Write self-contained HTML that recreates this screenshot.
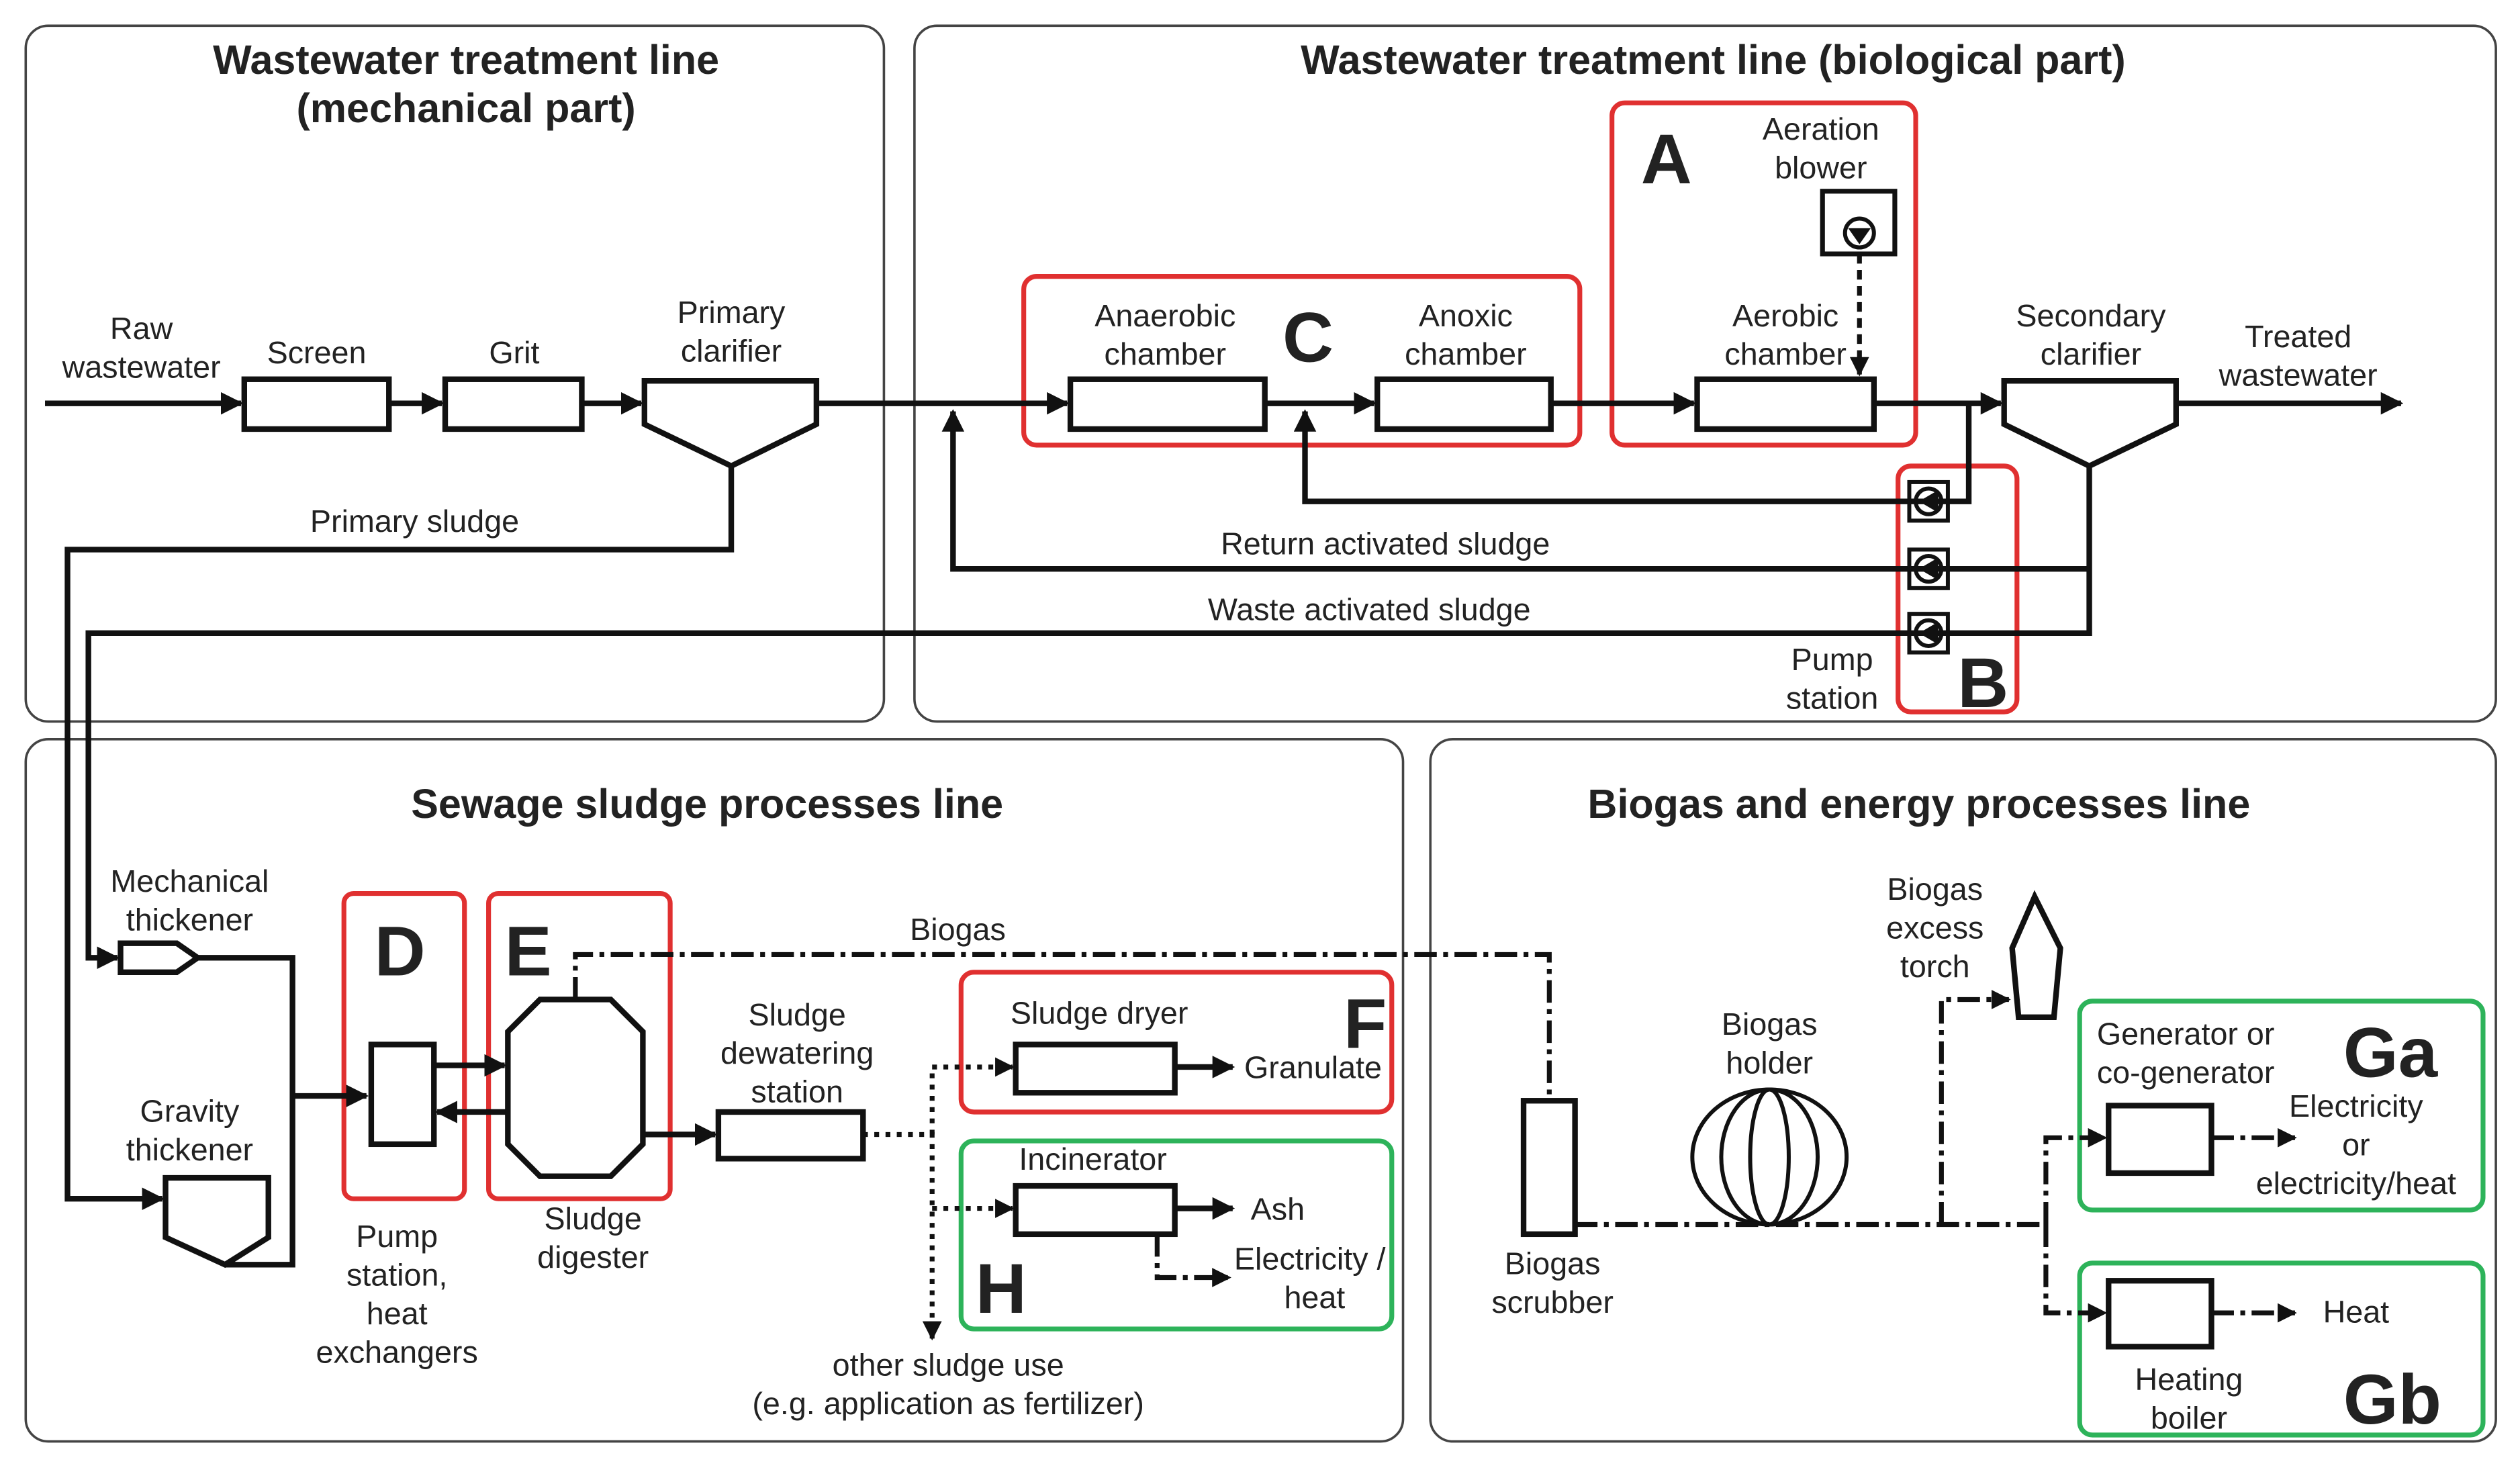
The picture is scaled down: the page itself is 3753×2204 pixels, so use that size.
<!DOCTYPE html>
<html><head><meta charset="utf-8"><style>
html,body{margin:0;padding:0;background:#fff;}
svg{display:block;}
text{font-family:"Liberation Sans",sans-serif;fill:#222;}
.t{font-size:19.5px;text-anchor:middle;}
.h{font-size:25.5px;font-weight:bold;text-anchor:middle;}
.L{font-size:44px;font-weight:bold;}
</style></head><body>
<svg width="3753" height="2204" viewBox="0 0 1568 921" preserveAspectRatio="none" xmlns="http://www.w3.org/2000/svg">
<defs>
<marker id="a" viewBox="0 0 10 10" refX="9" refY="5" markerWidth="4" markerHeight="4" orient="auto" markerUnits="strokeWidth"><path d="M0,0L10,5L0,10z" fill="#111"/></marker>
</defs>
<g fill="none" stroke="#444" stroke-width="1.5">
<rect x="16" y="16" width="534" height="433" rx="14"/>
<rect x="569" y="16" width="984" height="433" rx="14"/>
<rect x="16" y="460" width="857" height="437" rx="14"/>
<rect x="890" y="460" width="663" height="437" rx="14"/>
</g>
<g fill="none" stroke="#e03030" stroke-width="3">
<rect x="637" y="172" width="346" height="105" rx="8"/>
<rect x="1003" y="64" width="189" height="213" rx="8"/>
<rect x="1181" y="290" width="74" height="153" rx="8"/>
<rect x="214" y="556" width="75" height="190" rx="6"/>
<rect x="304" y="556" width="113" height="190" rx="6"/>
<rect x="598" y="605" width="268" height="87" rx="8"/>
</g>
<g fill="none" stroke="#2db35a" stroke-width="3">
<rect x="598" y="710" width="268" height="117" rx="8"/>
<rect x="1294" y="623" width="251" height="130" rx="8"/>
<rect x="1294" y="786" width="251" height="107" rx="8"/>
</g>
<g fill="none" stroke="#111" stroke-width="3.5">
<line x1="28" y1="251" x2="150" y2="251" marker-end="url(#a)"/>
<rect x="152" y="236" width="90" height="31"/>
<line x1="242" y1="251" x2="275" y2="251" marker-end="url(#a)"/>
<rect x="277" y="236" width="85" height="31"/>
<line x1="362" y1="251" x2="399" y2="251" marker-end="url(#a)"/>
<path d="M401,237H508V264L455,290L401,264Z"/>
<line x1="508" y1="251" x2="664" y2="251" marker-end="url(#a)"/>
<rect x="666" y="236" width="121" height="31"/>
<line x1="787" y1="251" x2="855" y2="251" marker-end="url(#a)"/>
<rect x="857" y="236" width="108" height="31"/>
<line x1="965" y1="251" x2="1054" y2="251" marker-end="url(#a)"/>
<rect x="1056" y="236" width="110" height="31"/>
<line x1="1166" y1="251" x2="1245" y2="251" marker-end="url(#a)"/>
<path d="M1247,237H1354V264L1300,290L1247,264Z"/>
<line x1="1354" y1="251" x2="1494" y2="251" marker-end="url(#a)"/>
<polyline points="455,290 455,342 42,342 42,746 101,746" marker-end="url(#a)"/>
<polyline points="1300,290 1300,394 55,394 55,596 73,596" marker-end="url(#a)"/>
<polyline points="1300,354 593,354 593,256" marker-end="url(#a)"/>
<polyline points="1225,251 1225,312 812,312 812,256" marker-end="url(#a)"/>
<rect x="1134" y="119" width="45" height="39" stroke-width="3"/>
<path d="M75,587H110L123,596L110,605H75Z"/>
<polyline points="123,596 182,596 182,787 140,787"/>
<path d="M103,733H167V770L140,787L103,770Z"/>
<line x1="182" y1="682" x2="228" y2="682" marker-end="url(#a)"/>
<rect x="231" y="650" width="39" height="62"/>
<line x1="270" y1="663" x2="314" y2="663" marker-end="url(#a)"/>
<line x1="316" y1="692" x2="272" y2="692" marker-end="url(#a)"/>
<path d="M336,622H380L400,642V712L380,732H336L316,712V642Z"/>
<line x1="400" y1="706" x2="445" y2="706" marker-end="url(#a)"/>
<rect x="447" y="692" width="90" height="29"/>
<rect x="632" y="650" width="99" height="30"/>
<line x1="731" y1="664" x2="767" y2="664" marker-end="url(#a)"/>
<rect x="632" y="738" width="99" height="30"/>
<line x1="731" y1="752" x2="767" y2="752" marker-end="url(#a)"/>
<rect x="948" y="685" width="32" height="83"/>
<path d="M1266,558L1282,590L1278,633H1256L1252,590Z"/>
<rect x="1312" y="688" width="64" height="42"/>
<rect x="1312" y="797" width="64" height="41"/>
</g>
<g fill="none" stroke="#111" stroke-width="2.5">
<ellipse cx="1101" cy="720" rx="48" ry="42"/>
<ellipse cx="1101" cy="720" rx="30" ry="42"/>
<ellipse cx="1101" cy="720" rx="12" ry="42"/>
<circle cx="1157" cy="145" r="9"/>
<circle cx="1200" cy="312" r="8"/><rect x="1188" y="300" width="24" height="24"/>
<circle cx="1200" cy="354" r="8"/><rect x="1188" y="342" width="24" height="24"/>
<circle cx="1200" cy="394" r="8"/><rect x="1188" y="382" width="24" height="24"/>
</g>
<g fill="#111">
<path d="M1150,142H1164L1157,152Z"/>
<path d="M1194,312L1206,305V319Z"/><path d="M1194,354L1206,347V361Z"/><path d="M1194,394L1206,387V401Z"/>
</g>
<g fill="none" stroke="#111" stroke-width="3" stroke-dasharray="6,4">
<line x1="1157" y1="158" x2="1157" y2="233" marker-end="url(#a)"/>
</g>
<g fill="none" stroke="#111" stroke-width="3" stroke-dasharray="3,4">
<polyline points="537,706 580,706 580,833" marker-end="url(#a)"/>
<polyline points="580,706 580,664 630,664" marker-end="url(#a)"/>
<line x1="580" y1="752" x2="630" y2="752" marker-end="url(#a)"/>
</g>
<g fill="none" stroke="#111" stroke-width="3" stroke-dasharray="14,4,3,4">
<polyline points="358,622 358,594 964,594 964,685"/>
<polyline points="720,768 720,795 765,795" marker-end="url(#a)"/>
<line x1="980" y1="762" x2="1273" y2="762"/>
<polyline points="1208,762 1208,622 1250,622" marker-end="url(#a)"/>
<polyline points="1273,762 1273,708 1310,708" marker-end="url(#a)"/>
<polyline points="1273,762 1273,817 1310,817" marker-end="url(#a)"/>
<line x1="1376" y1="708" x2="1428" y2="708" marker-end="url(#a)"/>
<line x1="1376" y1="817" x2="1428" y2="817" marker-end="url(#a)"/>
</g>
<text class="h" x="290" y="46">Wastewater treatment line</text>
<text class="h" x="290" y="76">(mechanical part)</text>
<text class="h" x="1066" y="46">Wastewater treatment line (biological part)</text>
<text class="h" x="440" y="509">Sewage sludge processes line</text>
<text class="h" x="1194" y="509">Biogas and energy processes line</text>
<g class="t">
<text class="t" x="88" y="211">Raw</text><text class="t" x="88" y="235">wastewater</text>
<text class="t" x="197" y="226">Screen</text>
<text class="t" x="320" y="226">Grit</text>
<text class="t" x="455" y="201">Primary</text><text class="t" x="455" y="225">clarifier</text>
<text class="t" x="725" y="203">Anaerobic</text><text class="t" x="725" y="227">chamber</text>
<text class="t" x="912" y="203">Anoxic</text><text class="t" x="912" y="227">chamber</text>
<text class="t" x="1111" y="203">Aerobic</text><text class="t" x="1111" y="227">chamber</text>
<text class="t" x="1133" y="87">Aeration</text><text class="t" x="1133" y="111">blower</text>
<text class="t" x="1301" y="203">Secondary</text><text class="t" x="1301" y="227">clarifier</text>
<text class="t" x="1430" y="216">Treated</text><text class="t" x="1430" y="240">wastewater</text>
<text class="t" x="258" y="331">Primary sludge</text>
<text class="t" x="862" y="345">Return activated sludge</text>
<text class="t" x="852" y="386">Waste activated sludge</text>
<text class="t" x="1140" y="417">Pump</text><text class="t" x="1140" y="441">station</text>
<text class="t" x="118" y="555">Mechanical</text><text class="t" x="118" y="579">thickener</text>
<text class="t" x="118" y="698">Gravity</text><text class="t" x="118" y="722">thickener</text>
<text class="t" x="247" y="776">Pump</text><text class="t" x="247" y="800">station,</text><text class="t" x="247" y="824">heat</text><text class="t" x="247" y="848">exchangers</text>
<text class="t" x="369" y="765">Sludge</text><text class="t" x="369" y="789">digester</text>
<text class="t" x="596" y="585">Biogas</text>
<text class="t" x="496" y="638">Sludge</text><text class="t" x="496" y="662">dewatering</text><text class="t" x="496" y="686">station</text>
<text class="t" x="684" y="637">Sludge dryer</text>
<text class="t" x="817" y="671">Granulate</text>
<text class="t" x="680" y="728">Incinerator</text>
<text class="t" x="795" y="759">Ash</text>
<text class="t" x="815" y="790">Electricity /</text><text class="t" x="818" y="814">heat</text>
<text class="t" x="590" y="856">other sludge use</text><text class="t" x="590" y="880">(e.g. application as fertilizer)</text>
<text class="t" x="966" y="793">Biogas</text><text class="t" x="966" y="817">scrubber</text>
<text class="t" x="1101" y="644">Biogas</text><text class="t" x="1101" y="668">holder</text>
<text class="t" x="1204" y="560">Biogas</text><text class="t" x="1204" y="584">excess</text><text class="t" x="1204" y="608">torch</text>
<text class="t" x="1360" y="650">Generator or</text><text class="t" x="1360" y="674">co-generator</text>
<text class="t" x="1466" y="695">Electricity</text><text class="t" x="1466" y="719">or</text><text class="t" x="1466" y="743">electricity/heat</text>
<text class="t" x="1466" y="823">Heat</text>
<text class="t" x="1362" y="865">Heating</text><text class="t" x="1362" y="889">boiler</text>
</g>
<text class="L" x="1021" y="114">A</text>
<text class="L" x="1218" y="440">B</text>
<text class="L" x="798" y="225">C</text>
<text class="L" x="233" y="607">D</text>
<text class="L" x="314" y="607">E</text>
<text class="L" x="836" y="652">F</text>
<text class="L" x="607" y="817">H</text>
<text class="L" x="1458" y="670">Ga</text>
<text class="L" x="1458" y="886">Gb</text>
</svg>
</body></html>
